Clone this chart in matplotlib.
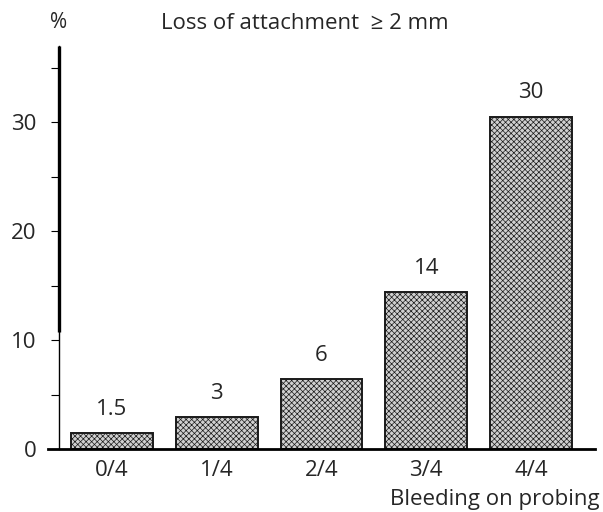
"""
Loss of attachment vs. bleeding on probing bar chart
"""
import matplotlib
matplotlib.use("Agg")
import matplotlib.pyplot as plt

# data
categories = ["0/4", "1/4", "2/4", "3/4", "4/4"]
heights = [1.5, 2.9, 6.4, 14.4, 30.5]
value_labels = ["1.5", "3", "6", "14", "30"]
y_major = [0, 10, 20, 30]
y_minor = [5, 15, 25, 35]

plt.rcParams["font.family"] = ["Open Sans", "DejaVu Sans"]
plt.rcParams["hatch.color"] = "#a4a4a4"
plt.rcParams["hatch.linewidth"] = 0.5

TXT = "#262626"
FS = 16

W, H = 603, 512
fig = plt.figure(figsize=(W / 100, H / 100), dpi=100)
ax = fig.add_axes([48 / W, 63 / H, 547 / W, 403.3 / H])

x = list(range(len(categories)))
bars = ax.bar(x, heights, width=0.78, facecolor="#d0d0d0", edgecolor="#1a1a1a",
              linewidth=1.4, hatch="xxxxxx", zorder=2)

for rect, lab in zip(bars, value_labels):
    ax.annotate(lab, (rect.get_x() + rect.get_width() / 2, rect.get_height()),
                xytext=(0, 13), textcoords="offset points", ha="center",
                va="baseline", fontsize=FS, color=TXT)

ax.set_xlim(-0.611, 4.611)
ax.set_ylim(0, 37.0)

for s in ["top", "right"]:
    ax.spines[s].set_visible(False)
ax.spines["left"].set_position(("data", -0.51))
ax.spines["left"].set_linewidth(1.0)
ax.spines["bottom"].set_linewidth(2.0)
# heavier upper part of the y axis line
ax.plot([-0.51, -0.51], [10.7, 37.0], color="black", lw=2.4,
        clip_on=False, solid_capstyle="butt", zorder=3)

ax.set_xticks(x)
ax.set_xticklabels(categories, fontsize=FS, color=TXT)
ax.tick_params(axis="x", length=0, pad=8)

ax.set_yticks(y_major)
ax.set_yticks(y_minor, minor=True)
ax.set_yticklabels([str(v) for v in y_major], fontsize=FS, color=TXT)
ax.tick_params(axis="y", which="both", direction="out", length=5.8,
               width=0.8, pad=10)

fig.text(58.5 / W, 1 - 28.5 / H, "%", ha="center", va="baseline",
         fontsize=FS - 1, color=TXT)
fig.text(305 / W, 1 - 28.5 / H, "Loss of attachment  \u2265 2 mm", ha="center",
         va="baseline", fontsize=FS, color=TXT)
fig.text(600 / W, 1 - 505 / H, "Bleeding on probing", ha="right",
         va="baseline", fontsize=FS, color=TXT)

fig.savefig("out.png", dpi=100)
